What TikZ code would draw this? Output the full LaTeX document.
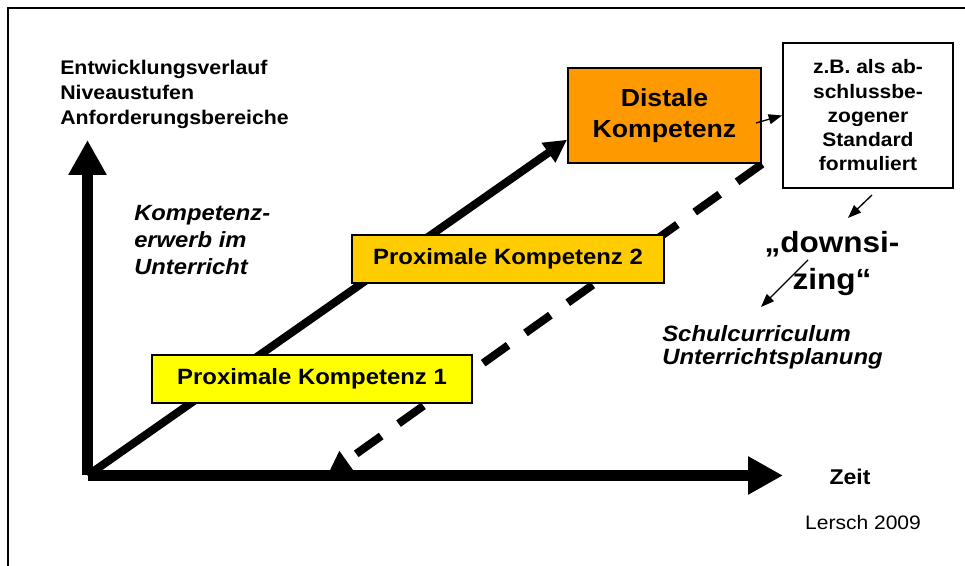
\documentclass[tikz,border=0pt]{standalone}
\usepackage{fontspec}
\setmainfont{Liberation Sans}[FakeStretch=1.08]
\usetikzlibrary{arrows.meta,calc}
\definecolor{distorange}{HTML}{FF9900}
\definecolor{proxgold}{HTML}{FFCC00}
\definecolor{proxyellow}{HTML}{FFFF00}
\pgfdeclarelayer{background}
\pgfsetlayers{background,main}

\begin{document}
\begin{tikzpicture}
			[x=0.75pt, y=-0.75pt,
			box/.style={draw, line width=1.5pt, inner sep=0pt, align=center, font=\bfseries},
			axis/.style={line width=8.25pt, -{Triangle[length=26.25pt,width=27pt]}},
			diag/.style={line width=6pt, -{Triangle[length=17pt,width=17pt]}},
			small/.style={line width=1pt, -{Triangle[length=10pt,width=7.5pt]}},
			txt/.style={inner sep=0pt, align=left}]
			\useasboundingbox (0,0) rectangle (965,566);
			\draw[line width=1.8pt] (8,566) -- (8,8) -- (965,8);
			\coordinate (corner) at (87.5,475.5);
			\coordinate (ytip) at (87.5,140);
			\coordinate (xtip) at (783,475.5);
			\coordinate (dashtip) at (328,474);
			\node[box, fill=distorange, minimum width=144.75pt, minimum height=71.25pt,
				font=\bfseries\fontsize{18.5}{23.25}\selectfont] (distale) at (664.5,115.5) {Distale\\Kompetenz};
			\node[box, fill=white, minimum width=127.5pt, minimum height=108.75pt,
				font=\bfseries\fontsize{14.6}{18.2}\selectfont] (standard) at (868,115.5)
				{z.B. als ab-\\schlussbe-\\zogener\\Standard\\formuliert};
			\node[box, fill=proxgold, minimum width=234pt, minimum height=36pt,
				font=\bfseries\fontsize{16.6}{20}\selectfont] (prox2) at (508,259) {Proximale Kompetenz 2};
			\node[box, fill=proxyellow, minimum width=240pt, minimum height=36pt,
				font=\bfseries\fontsize{16.6}{20}\selectfont] (prox1) at (312,379) {Proximale Kompetenz 1};
			\begin{pgfonlayer}{background}
				\draw[diag] (corner) -- ($(distale.south west)!0.25!(distale.north west)$);
				\draw[diag, dash pattern=on 23pt off 16pt] (distale.south east) -- (dashtip);
			\end{pgfonlayer}
			\draw[axis] (corner) -- (ytip);
			\draw[axis] (corner) -- (xtip);
			\node[txt, anchor=north west, font=\bfseries\fontsize{14.8}{18.75}\selectfont] (yname) at (60,60)
				{Entwicklungsverlauf\\Niveaustufen\\Anforderungsbereiche};
			\node[txt, anchor=north west, font=\bfseries\itshape\fontsize{16.5}{20.25}\selectfont] (erwerb) at (134,205)
				{Kompetenz-\\erwerb im\\Unterricht};
			\node[txt, anchor=north, align=center, font=\bfseries\fontsize{21.9}{27.75}\selectfont] (downsizing) at (832,231)
				{„downsi-\\zing“};
			\node[txt, anchor=north west, font=\bfseries\itshape\fontsize{16.6}{17.25}\selectfont] (schule) at (662,325)
				{Schulcurriculum\\Unterrichtsplanung};
			\node[txt, font=\bfseries\fontsize{16}{19}\selectfont] (zeit) at (850,477) {Zeit};
			\node[txt, font=\fontsize{14.6}{17}\selectfont] (lersch) at (863,523) {Lersch 2009};
			\coordinate (down1) at (872,195);
			\coordinate (down2) at (848,218);
			\coordinate (down3) at (808,260);
			\coordinate (down4) at (761,307);
			\draw[small] (756,123) -- (standard.west);
			\draw[small] (down1) -- (down2);
			\draw[small] (down3) -- (down4);
		\end{tikzpicture}
\end{document}
